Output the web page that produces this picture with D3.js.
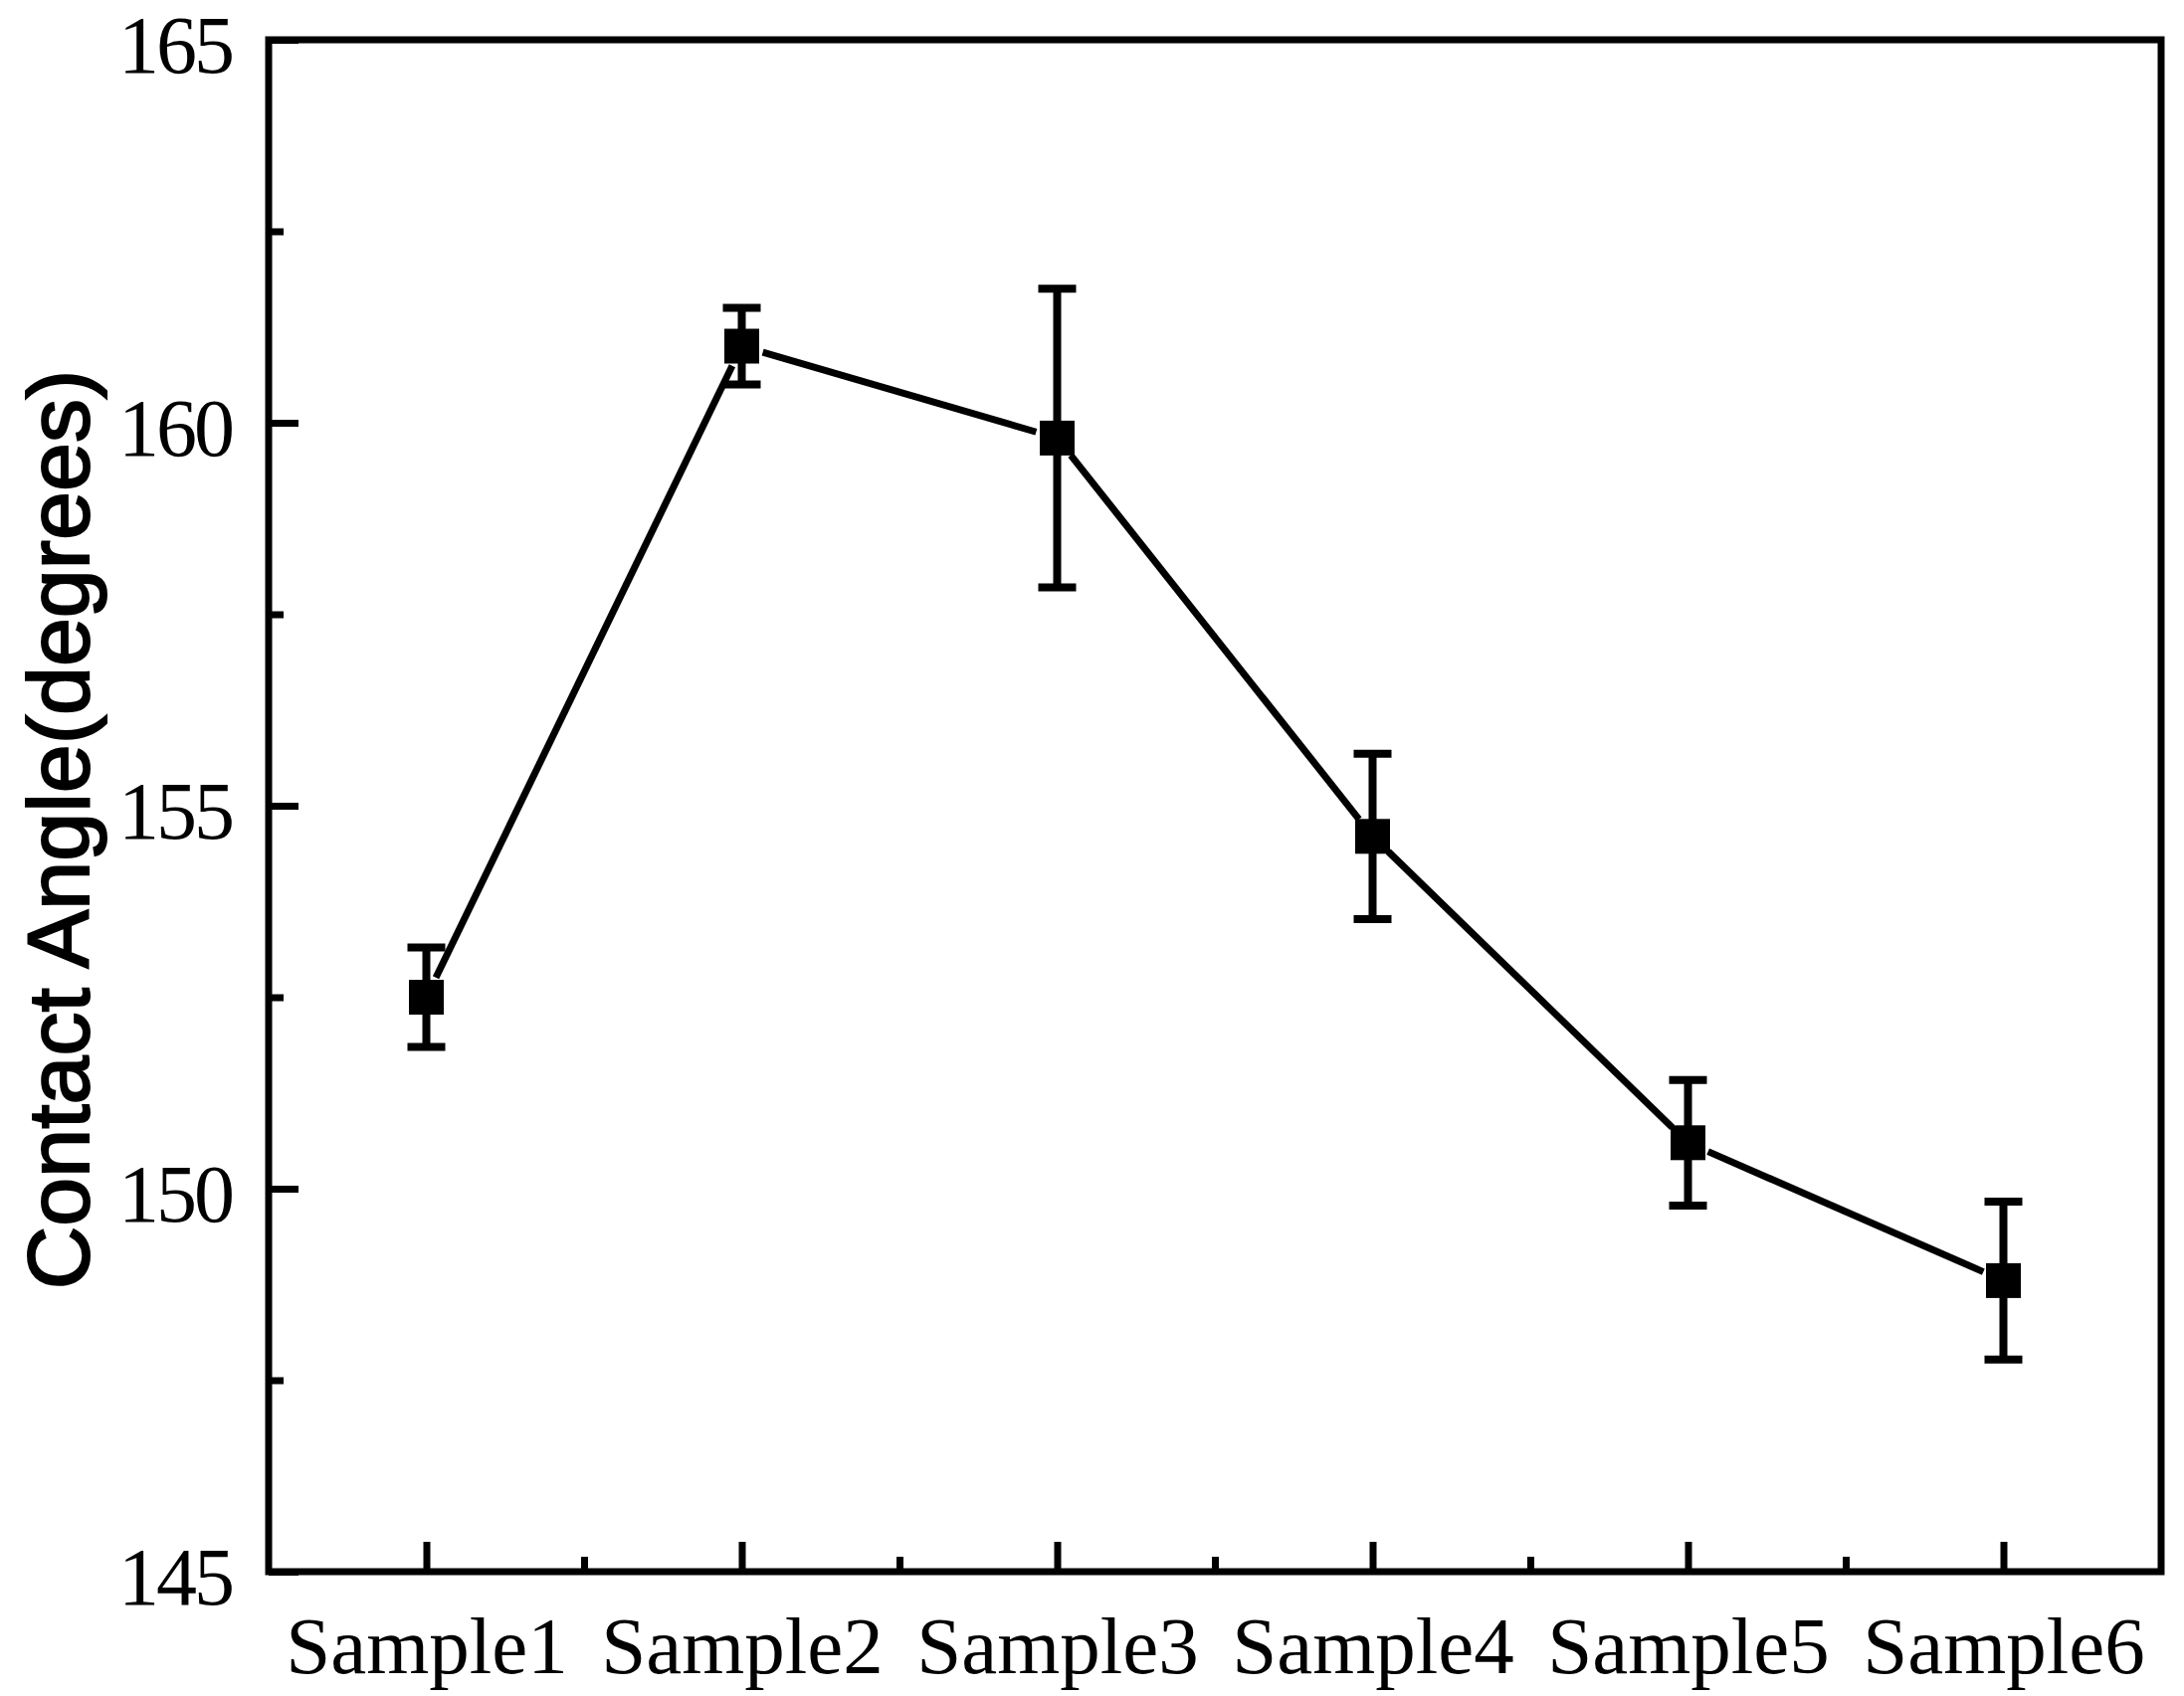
<!DOCTYPE html>
<html>
<head>
<meta charset="utf-8">
<script src="https://cdn.jsdelivr.net/npm/d3@7"></script>
<style>
  body { margin: 0; background: #fff; }
  .tick text { font-family: "Liberation Serif", serif; fill: #000; }
</style>
</head>
<body>
<svg id="chart"></svg>
<script>
// values
var samples = ["Sample1", "Sample2", "Sample3", "Sample4", "Sample5", "Sample6"];
var angle = [152.5, 161.0, 159.8, 154.6, 150.6, 148.8];
var angleErr = [0.65, 0.5, 1.95, 1.08, 0.82, 1.03];
var yTicks = [145, 150, 155, 160, 165];
var yMinor = [147.5, 152.5, 157.5, 162.5];

var W = 2195, H = 1705;
var plotL = 270, plotR = 2172, plotT = 40, plotB = 1580;
var lw = 7;

var svg = d3.select("#chart")
    .attr("width", W)
    .attr("height", H);

svg.append("rect").attr("width", W).attr("height", H).attr("fill", "#fff");

var x = d3.scaleLinear()
    .domain([0.5, samples.length + 0.5])
    .range([plotL, plotR]);

var y = d3.scaleLinear()
    .domain([145, 165])
    .range([plotB, plotT]);

var pts = samples.map(function (s, i) {
    return { i: i + 1, v: angle[i], e: angleErr[i] };
});

// x axis, ticks point inward
var xax = svg.append("g")
    .attr("transform", "translate(0," + plotB + ")")
    .call(d3.axisBottom(x)
        .tickValues(pts.map(function (d) { return d.i; }))
        .tickFormat(function (d) { return samples[d - 1]; })
        .tickSize(-30)
        .tickSizeOuter(0)
        .tickPadding(44));
xax.selectAll("text").attr("font-size", 81);

svg.append("g")
    .attr("transform", "translate(0," + plotB + ")")
    .call(d3.axisBottom(x)
        .tickValues(d3.range(1.5, samples.length, 1))
        .tickFormat("")
        .tickSize(-15)
        .tickSizeOuter(0));

// y axis
var yax = svg.append("g")
    .attr("transform", "translate(" + plotL + ",0)")
    .call(d3.axisLeft(y)
        .tickValues(yTicks)
        .tickSize(-30)
        .tickSizeOuter(0)
        .tickPadding(37));
yax.selectAll("text")
    .attr("font-size", 82)
    .attr("letter-spacing", -3)
    .attr("dy", "0.4em");

svg.append("g")
    .attr("transform", "translate(" + plotL + ",0)")
    .call(d3.axisLeft(y)
        .tickValues(yMinor)
        .tickFormat("")
        .tickSize(-15)
        .tickSizeOuter(0));

svg.selectAll(".domain").remove();
svg.selectAll(".tick line")
    .attr("stroke", "#000")
    .attr("stroke-width", lw);

// frame
svg.append("rect")
    .attr("x", plotL)
    .attr("y", plotT)
    .attr("width", plotR - plotL)
    .attr("height", plotB - plotT)
    .attr("fill", "none")
    .attr("stroke", "#000")
    .attr("stroke-width", lw);

// y title
svg.append("text")
    .attr("text-anchor", "middle")
    .attr("transform", "translate(89,834)rotate(-90)")
    .attr("font-family", "Liberation Sans, Arial, sans-serif")
    .attr("font-size", 88)
    .attr("stroke", "#000")
    .attr("stroke-width", 2)
    .text("Contact Angle(degrees)");

// error bars
var cap = 19;
var eb = svg.append("g").attr("stroke", "#000").attr("stroke-width", 8);
eb.selectAll("line.v").data(pts).enter().append("line")
    .attr("x1", function (d) { return x(d.i); })
    .attr("x2", function (d) { return x(d.i); })
    .attr("y1", function (d) { return y(d.v + d.e); })
    .attr("y2", function (d) { return y(d.v - d.e); });
eb.selectAll("line.t").data(pts).enter().append("line")
    .attr("x1", function (d) { return x(d.i) - cap; })
    .attr("x2", function (d) { return x(d.i) + cap; })
    .attr("y1", function (d) { return y(d.v + d.e); })
    .attr("y2", function (d) { return y(d.v + d.e); });
eb.selectAll("line.b").data(pts).enter().append("line")
    .attr("x1", function (d) { return x(d.i) - cap; })
    .attr("x2", function (d) { return x(d.i) + cap; })
    .attr("y1", function (d) { return y(d.v - d.e); })
    .attr("y2", function (d) { return y(d.v - d.e); });

// connecting line, with a small gap round each marker
var gap = 22;
var segs = d3.pairs(pts);
svg.append("g").selectAll("line").data(segs).enter().append("line")
    .each(function (p) {
        var x1 = x(p[0].i), y1 = y(p[0].v), x2 = x(p[1].i), y2 = y(p[1].v);
        var len = Math.hypot(x2 - x1, y2 - y1);
        var ux = (x2 - x1) / len, uy = (y2 - y1) / len;
        d3.select(this)
            .attr("x1", x1 + ux * gap).attr("y1", y1 + uy * gap)
            .attr("x2", x2 - ux * gap).attr("y2", y2 - uy * gap);
    })
    .attr("stroke", "#000")
    .attr("stroke-width", lw);

// square markers
var ms = 35;
svg.append("g").selectAll("rect").data(pts).enter().append("rect")
    .attr("x", function (d) { return x(d.i) - ms / 2; })
    .attr("y", function (d) { return y(d.v) - ms / 2; })
    .attr("width", ms)
    .attr("height", ms)
    .attr("fill", "#000");
</script>
</body>
</html>
